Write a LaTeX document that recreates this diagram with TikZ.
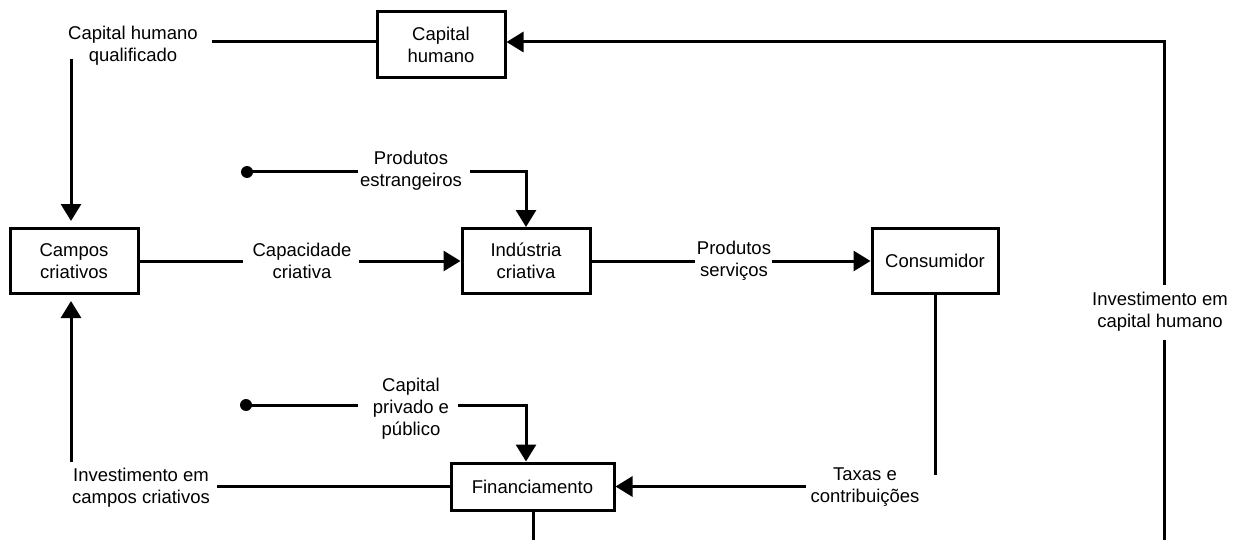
\documentclass[tikz,border=0pt]{standalone}
\usepackage{fontspec}
\setmainfont{Liberation Sans}
\usetikzlibrary{arrows.meta}
\tikzset{
  box/.style={draw, line width=3pt, inner sep=0pt, align=center, font=\fontsize{18.5}{22}\selectfont},
  lbl/.style={inner sep=0pt, align=center, font=\fontsize{18.5}{22}\selectfont},
  ln/.style={line width=3pt},
  arr/.style={line width=3pt, -{Triangle[length=17pt,width=20pt]}},
}
\begin{document}
\begin{tikzpicture}[x=1pt,y=-1pt]
\useasboundingbox (0,0) rectangle (1236,540);
% boxes
\node[box, minimum width=128pt, minimum height=66pt] (ch) at (441,45) {Capital\\humano};
\node[box, minimum width=128pt, minimum height=65pt] (cc) at (74,261) {Campos\\criativos};
\node[box, minimum width=128pt, minimum height=65pt] (ic) at (526,261) {Indústria\\criativa};
\node[box, minimum width=126pt, minimum height=65pt] (co) at (935,261) {Consumidor};
\node[box, minimum width=163pt, minimum height=47pt] (fi) at (532.5,486.5) {Financiamento};
% labels
\node[lbl] (l1) at (133,46) {Capital humano\\qualificado};
\node[lbl] (l2) at (411,170.5) {Produtos\\estrangeiros};
\node[lbl] (l3) at (302,261) {Capacidade\\criativa};
\node[lbl] (l4) at (734,261) {Produtos\\serviços};
\node[lbl] (l5) at (1160,311.5) {Investimento em\\capital humano};
\node[lbl] (l6) at (411,409) {Capital\\privado e\\público};
\node[lbl] (l7) at (141,487.5) {Investimento em\\campos criativos};
\node[lbl] (l8) at (865,487.5) {Taxas e\\contribuições};
% coordinates
\coordinate (q1) at (212,42);
\coordinate (q2) at (71,59);
\coordinate (r1) at (1164,42);
\coordinate (r2) at (1164,285);
\coordinate (r3) at (1164,340);
\coordinate (r4) at (1164,542);
\coordinate (d1) at (247,172);
\coordinate (p1) at (358,172);
\coordinate (p2) at (470,172);
\coordinate (p3) at (526,172);
\coordinate (c1) at (243,261);
\coordinate (c2) at (359,261);
\coordinate (s1) at (695,261);
\coordinate (s2) at (772,261);
\coordinate (t1) at (935,475);
\coordinate (t2) at (806,486.5);
\coordinate (d2) at (246,405);
\coordinate (k1) at (358,405);
\coordinate (k2) at (458,405);
\coordinate (k3) at (526,405);
\coordinate (v1) at (217,486.5);
\coordinate (v2) at (71,462);
\coordinate (f1) at (533,542);
% connectors
\draw[ln] ([yshift=3pt]ch.west) -- (q1);
\draw[arr, shorten >=6pt] (q2) -- (q2 |- cc.north);
\draw[ln] (r4) -- (r3);
\draw[arr] (r2) -- (r1) -- ([yshift=3pt]ch.east);
\fill (d1) circle (6);
\draw[ln] (d1) -- (p1);
\draw[arr] (p2) -- (p3) -- (p3 |- ic.north);
\draw[ln] (cc.east) -- (c1);
\draw[arr] (c2) -- (ic.west);
\draw[ln] (ic.east) -- (s1);
\draw[arr] (s2) -- (co.west);
\draw[ln] (co.south) -- (t1);
\draw[arr] (t2) -- (fi.east);
\fill (d2) circle (6);
\draw[ln] (d2) -- (k1);
\draw[arr] (k2) -- (k3) -- (k3 |- fi.north);
\draw[ln] (fi.west) -- (v1);
\draw[arr, shorten >=6pt] (v2) -- (v2 |- cc.south);
\draw[ln] (fi.south -| f1) -- (f1);
\end{tikzpicture}
\end{document}
